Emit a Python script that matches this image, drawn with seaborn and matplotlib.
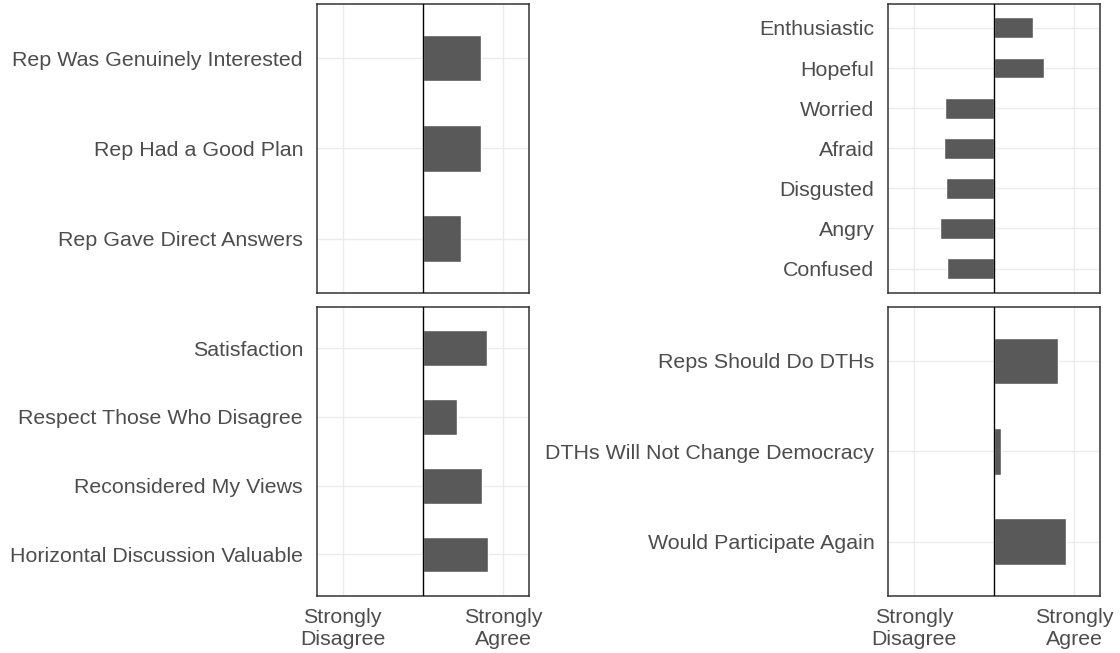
import numpy as np
import pandas as pd
import seaborn as sns
import matplotlib.pyplot as plt

# panel data (scale: -1 = strongly disagree, 1 = strongly agree)
rep_items = ['Rep Was Genuinely Interested', 'Rep Had a Good Plan', 'Rep Gave Direct Answers']
rep_vals = [0.73, 0.72, 0.48]

emotion_items = ['Enthusiastic', 'Hopeful', 'Worried', 'Afraid', 'Disgusted', 'Angry', 'Confused']
emotion_vals = [0.48, 0.62, -0.61, -0.62, -0.60, -0.67, -0.59]

discussion_items = ['Satisfaction', 'Respect Those Who Disagree', 'Reconsidered My Views',
                    'Horizontal Discussion Valuable']
discussion_vals = [0.80, 0.43, 0.74, 0.81]

dth_items = ['Reps Should Do DTHs', 'DTHs Will Not Change Democracy', 'Would Participate Again']
dth_vals = [0.80, 0.09, 0.90]

x_ticks = [-1, 1]
x_ticklabels = ['Strongly\nDisagree', 'Strongly\nAgree']

sns.set_theme(style='white')
plt.rcParams['font.family'] = ['Liberation Sans', 'DejaVu Sans']

fig = plt.figure(figsize=(11.2, 6.53), dpi=100)

# axes boxes in figure fractions
left_x, right_x, w = 0.2830, 0.7931, 0.1890
top_y, bot_y, h = 0.5518, 0.0878, 0.4423

panels = [
    (rep_items, rep_vals, [left_x, top_y, w, h], False),
    (emotion_items, emotion_vals, [right_x, top_y, w, h], False),
    (discussion_items, discussion_vals, [left_x, bot_y, w, h], True),
    (dth_items, dth_vals, [right_x, bot_y, w, h], True),
]

for items, vals, box, show_x in panels:
    ax = fig.add_axes(box)
    df = pd.DataFrame({'item': items, 'value': vals})
    sns.barplot(data=df, x='value', y='item', orient='h', color='#595959',
                saturation=1, width=0.52, ax=ax)
    # seaborn switches the grid off on the categorical axis, so turn it back on
    ax.grid(True, axis='both', color='#EBEBEB', linewidth=1.0)
    ax.set_axisbelow(True)
    ax.axvline(0, color='black', linewidth=1.0, zorder=3)
    ax.set_xlim(-1.32, 1.32)
    ax.set_ylim(len(items) - 1 + 0.6, -0.6)
    ax.set_xticks(x_ticks)
    if show_x:
        ax.set_xticklabels(x_ticklabels)
    else:
        ax.set_xticklabels([])
    ax.set_xlabel('')
    ax.set_ylabel('')
    ax.tick_params(axis='both', which='major', labelsize=15.4, labelcolor='#4D4D4D',
                   length=0, bottom=True, left=True)
    ax.tick_params(axis='y', pad=10)
    ax.tick_params(axis='x', pad=9)
    for sp in ax.spines.values():
        sp.set_color('#333333')
        sp.set_linewidth(1.1)
    for lab in ax.get_xticklabels():
        lab.set_linespacing(1.22)

fig.savefig('out.png', dpi=100)
